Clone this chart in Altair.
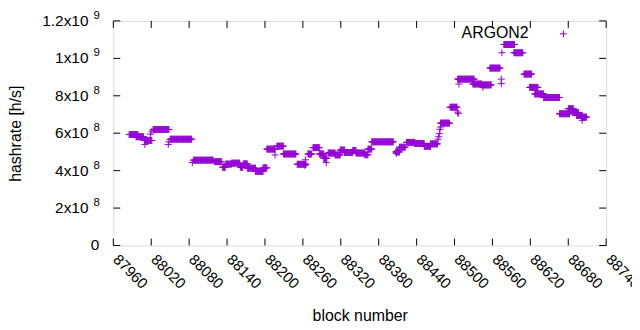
import altair as alt
import pandas as pd

# ---- data (hashrate in units of 1e8 H/s) ----
seg_start = [87985, 87996, 88009, 88023, 88050, 88087, 88120, 88133, 88138, 88147,
             88161, 88166, 88172, 88185, 88197, 88203, 88219, 88229, 88251, 88268,
             88276, 88286, 88293, 88300, 88311, 88319, 88326, 88339, 88344, 88358,
             88363, 88369, 88407, 88413, 88424, 88437, 88452, 88462, 88478, 88493,
             88505, 88529, 88543, 88556, 88578, 88594, 88610, 88619, 88627, 88641,
             88666, 88680, 88687, 88693, 88701]
seg_end = [87999, 88008, 88021, 88048, 88084, 88118, 88131, 88137, 88147, 88160,
           88165, 88172, 88185, 88197, 88203, 88216, 88229, 88249, 88265, 88274,
           88286, 88293, 88298, 88311, 88319, 88326, 88339, 88344, 88358, 88363,
           88369, 88403, 88413, 88422, 88437, 88452, 88462, 88473, 88492, 88504,
           88531, 88543, 88558, 88572, 88595, 88608, 88622, 88632, 88641, 88666,
           88682, 88688, 88696, 88702, 88709]
seg_value = [5.93, 5.81, 5.61, 6.20, 5.68, 4.56, 4.48, 4.18, 4.35, 4.40,
             4.18, 4.36, 4.13, 3.96, 4.15, 5.15, 5.31, 4.89, 4.34, 4.89,
             5.23, 4.89, 4.66, 4.94, 4.84, 5.10, 4.97, 5.08, 4.94, 4.85,
             5.15, 5.54, 5.00, 5.25, 5.51, 5.45, 5.30, 5.43, 6.54, 7.39,
             8.89, 8.63, 8.58, 9.48, 10.74, 10.30, 9.16, 8.45, 8.10, 7.91,
             7.04, 7.31, 7.11, 6.95, 6.86]
extra_block = [88010, 88019, 88021, 88047, 88048, 88085, 88216, 88263, 88264, 88297,
               88408, 88410, 88474, 88475, 88476, 88477, 88478, 88505, 88506, 88507,
               88545, 88574, 88574, 88575, 88702]
extra_value = [5.40, 5.95, 6.11, 5.40, 5.54, 4.43, 4.84, 4.28, 4.58, 4.43,
               4.92, 5.06, 5.68, 5.81, 5.98, 6.21, 6.33, 7.13, 7.06, 8.63,
               8.45, 8.89, 8.65, 10.30, 6.69]
series_names = ["ARGON2"]

x_ticks = list(range(87960, 88741, 60))
y_ticks = [0, 2e8, 4e8, 6e8, 8e8, 1e9, 1.2e9]
y_mant = ["0", "2x10", "4x10", "6x10", "8x10", "1x10", "1.2x10"]
y_exp = ["", "8", "8", "8", "8", "9", "9"]

rows = []
for s, e, v in zip(seg_start, seg_end, seg_value):
    for b in range(s, e + 1):
        rows.append({"block": b, "hashrate": v * 1e8})
for b, v in zip(extra_block, extra_value):
    rows.append({"block": b, "hashrate": v * 1e8})
df = pd.DataFrame(rows)

xt = pd.DataFrame({"block": x_ticks})
yt = pd.DataFrame({"hashrate": y_ticks, "mant": y_mant, "exp": y_exp})

PURPLE = "#9400D3"
FONT = "Liberation Sans"
FS = 15.5
TFS = 16
PLUS = "M-1,0L1,0M0,-1L0,1"
W, H = 496, 226

xscale = alt.Scale(domain=[87960, 88740], nice=False, zero=False)
yscale = alt.Scale(domain=[0, 1.2e9], nice=False)

xaxis = alt.Axis(
    values=x_ticks, format="d", labelAngle=45, labelAlign="left",
    labelBaseline="middle", labelPadding=11, labelOffset=2, ticks=False,
    domain=False, grid=False, labelFont=FONT, labelFontSize=15,
    labelColor="black",
    title="block number", titleFont=FONT, titleFontSize=TFS,
    titleFontWeight="normal", titleColor="black", titleY=70,
    titleBaseline="middle", labelFlush=False, labelOverlap=False)
yaxis = alt.Axis(
    labels=False, ticks=False, domain=False, grid=False,
    title="hashrate [h/s]", titleFont=FONT, titleFontSize=TFS,
    titleFontWeight="normal", titleColor="black", titleX=-98, titleY=H / 2,
    titleBaseline="middle", titleAngle=-90)

X = alt.X("block:Q", scale=xscale, axis=xaxis)
Y = alt.Y("hashrate:Q", scale=yscale, axis=yaxis)

points = alt.Chart(df).mark_point(
    shape=PLUS, size=49, color=PURPLE, filled=False, strokeWidth=1, opacity=1
).encode(x=X, y=Y)

xtick_b = alt.Chart(xt).mark_rule(color="black", strokeWidth=1).encode(
    x=X, y=alt.value(H - 7), y2=alt.value(H))
xtick_t = alt.Chart(xt).mark_rule(color="black", strokeWidth=1).encode(
    x=X, y=alt.value(0), y2=alt.value(7))
ytick_l = alt.Chart(yt).mark_rule(color="black", strokeWidth=1).encode(
    y=Y, x=alt.value(0), x2=alt.value(7))
ytick_r = alt.Chart(yt).mark_rule(color="black", strokeWidth=1).encode(
    y=Y, x=alt.value(W - 7), x2=alt.value(W))

ylab_m = alt.Chart(yt).transform_filter("datum.exp != ''").mark_text(
    align="right", baseline="middle", font=FONT, fontSize=FS, color="black"
).encode(y=Y, x=alt.value(-25), text="mant:N")
ylab_0 = alt.Chart(yt).transform_filter("datum.exp == ''").mark_text(
    align="right", baseline="middle", font=FONT, fontSize=FS, color="black"
).encode(y=Y, x=alt.value(-14), text="mant:N")
ylab_e = alt.Chart(yt).transform_filter("datum.exp != ''").mark_text(
    align="left", baseline="middle", font=FONT, fontSize=11.5, color="black", dy=-5
).encode(y=Y, x=alt.value(-20), text="exp:N")

leg = pd.DataFrame({"name": series_names})
leg_text = alt.Chart(leg).mark_text(
    align="right", baseline="middle", font=FONT, fontSize=TFS, color="black"
).encode(text="name:N", x=alt.value(418), y=alt.value(12))
leg_pt = alt.Chart(leg).mark_point(
    shape=PLUS, size=49, color=PURPLE, filled=False, strokeWidth=1, opacity=1
).encode(x=alt.value(453), y=alt.value(13))

chart = alt.layer(
    points, xtick_b, xtick_t, ytick_l, ytick_r, ylab_m, ylab_0, ylab_e, leg_text, leg_pt
).properties(
    width=W, height=H,
    autosize=alt.AutoSizeParams(type="none"),
    padding={"left": 106, "top": 12, "right": 26, "bottom": 80},
).configure_view(stroke="black", strokeWidth=1).configure(background="white")

chart.save("out.html", embed_options={"renderer": "svg", "actions": False})
